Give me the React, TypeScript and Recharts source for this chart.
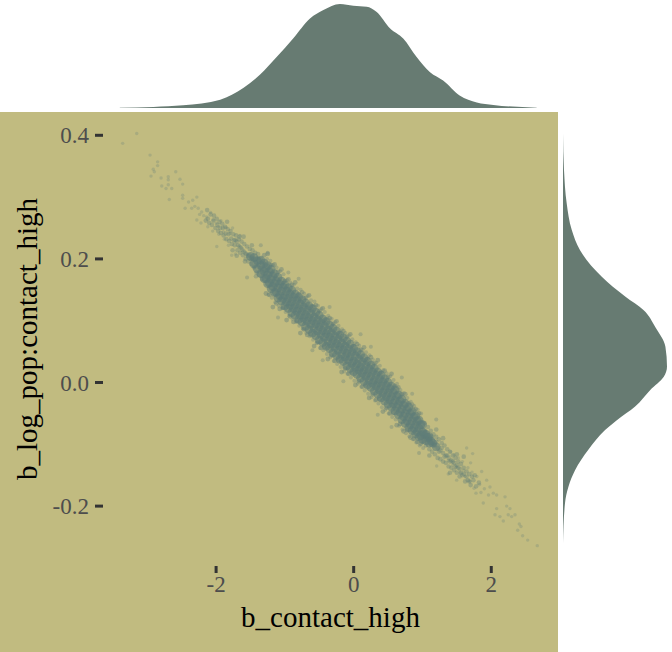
import { ScatterChart, Scatter, AreaChart, Area, XAxis, YAxis } from "recharts";

const FONT = '"Liberation Serif", "Times New Roman", serif';
const OLIVE = "#C1BB80";
const SLATE = "#677B72";
const DOT = "#5F7D78";

const xTicks = [-2, 0, 2];
const yTicks = [-0.2, 0, 0.2, 0.4];
const xDomain = [-3.644, 2.97];
const yDomain = [-0.2969, 0.4377];

// top marginal: [b_contact_high, density]
const topDensity = [
    [-3.4, 0.001], [-2.91, 0.005], [-2.48, 0.013], [-1.94, 0.04], [-1.6, 0.097], [-1.36, 0.161],
    [-1.12, 0.245], [-0.88, 0.334], [-0.635, 0.43], [-0.44, 0.471], [-0.2, 0.5], [-0.005, 0.492],
    [0.19, 0.487], [0.33, 0.463], [0.53, 0.382], [0.72, 0.334], [0.915, 0.245], [1.11, 0.172],
    [1.3, 0.132], [1.54, 0.06], [1.79, 0.027], [2.03, 0.015], [2.66, 0.001],
];

// right marginal: [b_log_pop:contact_high, density]
const rightDensity = [
    [0.403, 0], [0.344, 0.044], [0.29, 0.163], [0.247, 0.385], [0.214, 0.754], [0.171, 1.716],
    [0.139, 2.75], [0.117, 3.57], [0.09, 4.08], [0.058, 4.53], [0.026, 4.6], [0.009, 4.45],
    [-0.012, 3.86], [-0.039, 3.19], [-0.061, 2.38], [-0.077, 1.86], [-0.109, 1.12], [-0.142, 0.533],
    [-0.169, 0.237], [-0.195, 0.089], [-0.26, 0],
];

// sparse draws at both ends of the cloud
const tailDraws = [
    [-3.154, 0.403], [-3.358, 0.387], [-2.96, 0.368], [-2.85, 0.357], [-2.85, 0.351], [-2.913, 0.345],
    [-2.898, 0.341], [-2.946, 0.334], [-2.8, 0.331], [-2.695, 0.333], [-2.695, 0.328], [-2.587, 0.341],
    [-2.525, 0.329], [-2.486, 0.321], [-2.79, 0.318], [-2.695, 0.32], [-2.728, 0.314], [-2.645, 0.314],
    [-2.68, 0.296], [-2.486, 0.303], [-2.486, 0.298], [-2.34, 0.295], [-2.28, 0.3], [-2.45, 0.282],
    [-2.355, 0.282], [-2.26, 0.282], [-2.21, 0.276], [-2.28, 0.263], [-2.137, 0.268], [-2.04, 0.263],
    [-1.968, 0.252], [-1.895, 0.244], [-1.99, 0.22], [-1.773, 0.206], [-1.653, 0.238], [-2.18, 0.27],
    [-2.12, 0.252], [-2.08, 0.275], [-2.05, 0.245], [-2.0, 0.258], [-1.96, 0.24], [-1.93, 0.262],
    [-1.88, 0.232], [-1.85, 0.251], [-1.82, 0.222], [-1.8, 0.241], [-1.76, 0.25], [-1.72, 0.208],
    [-2.22, 0.258], [-2.31, 0.285], [-2.4, 0.292], [-2.24, 0.272],
    [2.669, -0.264], [2.529, -0.255], [2.456, -0.248], [2.384, -0.239], [2.432, -0.233], [2.408, -0.229],
    [2.345, -0.214], [2.296, -0.217], [2.247, -0.214], [2.224, -0.2], [2.272, -0.204], [2.2, -0.185],
    [2.078, -0.204], [2.054, -0.214], [2.126, -0.217], [2.175, -0.224], [2.078, -0.182], [1.933, -0.158],
    [1.884, -0.195], [1.778, -0.179], [1.642, -0.106], [1.729, -0.115], [1.86, -0.144], [1.981, -0.169],
    [2.03, -0.179], [1.497, -0.158], [1.375, -0.148], [1.206, -0.135], [1.83, -0.165], [1.79, -0.152],
    [1.75, -0.171], [1.72, -0.145], [1.69, -0.16], [1.66, -0.138], [1.62, -0.152], [1.58, -0.128],
    [1.55, -0.146], [1.52, -0.122], [1.49, -0.137], [1.46, -0.117], [1.9, -0.172], [1.96, -0.182],
    [1.7, -0.13], [1.85, -0.178], [1.6, -0.142], [1.44, -0.133], [1.41, -0.112], [1.38, -0.126],
];

// thicker stretches between the tails and the ridge
const shoulderDraws = [
    [-2.15, 0.262], [-2.13, 0.279], [-2.1, 0.258], [-2.08, 0.272], [-2.06, 0.255], [-2.03, 0.27],
    [-2.01, 0.25], [-1.99, 0.265], [-1.97, 0.245], [-1.95, 0.26], [-1.93, 0.242], [-1.91, 0.257],
    [-1.89, 0.238], [-1.87, 0.252], [-1.85, 0.232], [-1.83, 0.248], [-1.81, 0.229], [-1.79, 0.245],
    [-1.77, 0.224], [-1.75, 0.24], [-1.73, 0.222], [-1.71, 0.238], [-1.69, 0.214], [-1.67, 0.232],
    [-1.65, 0.21], [-1.63, 0.228], [-1.61, 0.206], [-1.59, 0.224], [-1.57, 0.2], [-1.55, 0.22],
    [-1.53, 0.196], [-1.51, 0.216], [-1.49, 0.192], [-1.47, 0.214], [-1.45, 0.186], [-1.43, 0.21],
    [-1.41, 0.178], [-1.39, 0.208], [-1.37, 0.174], [-1.35, 0.2], [-1.33, 0.168], [-1.31, 0.194],
    [-1.74, 0.23], [-1.7, 0.228], [-1.66, 0.22], [-1.62, 0.215], [-1.58, 0.21], [-1.54, 0.205],
    [-1.5, 0.2], [-1.46, 0.2], [-1.42, 0.195], [-1.38, 0.19], [-1.34, 0.184], [-1.3, 0.18],
    [-2.12, 0.265], [-2.04, 0.262], [-1.98, 0.255], [-1.94, 0.25], [-1.9, 0.25], [-1.86, 0.241],
    [-1.82, 0.24], [-1.78, 0.233], [-1.72, 0.23], [-1.68, 0.222], [-1.64, 0.218], [-1.6, 0.212],
    [-1.76, 0.214], [-1.56, 0.208], [-1.52, 0.206], [-1.48, 0.202], [-1.44, 0.188], [-1.4, 0.2],
    [-1.36, 0.185], [-1.32, 0.178], [-1.66, 0.236], [-1.58, 0.196], [-1.48, 0.222], [-1.42, 0.172],
    [-1.6, 0.236], [-1.7, 0.205], [-1.84, 0.26],
    [1.0, -0.096], [1.03, -0.066], [1.05, -0.102], [1.08, -0.072], [1.1, -0.108], [1.12, -0.078],
    [1.14, -0.112], [1.16, -0.084], [1.18, -0.116], [1.2, -0.088], [1.22, -0.122], [1.24, -0.092],
    [1.26, -0.124], [1.28, -0.098], [1.3, -0.128], [1.32, -0.102], [1.34, -0.13], [1.36, -0.108],
    [1.38, -0.136], [1.4, -0.112], [1.42, -0.138], [1.44, -0.118], [1.46, -0.142], [1.48, -0.122],
    [1.5, -0.146], [1.52, -0.128], [1.54, -0.152], [1.56, -0.132], [1.58, -0.15], [1.6, -0.138],
    [1.62, -0.16], [1.64, -0.144], [1.66, -0.158], [1.68, -0.148], [1.7, -0.166], [1.74, -0.158],
    [1.78, -0.168], [1.82, -0.162], [1.02, -0.082], [1.06, -0.088], [1.1, -0.092], [1.14, -0.098],
    [1.18, -0.102], [1.22, -0.106], [1.26, -0.11], [1.3, -0.114], [1.34, -0.118], [1.38, -0.122],
    [1.42, -0.126], [1.46, -0.13], [1.5, -0.134], [1.54, -0.14],
    [1.04, -0.078], [1.08, -0.09], [1.12, -0.088], [1.16, -0.1], [1.2, -0.096], [1.24, -0.112],
    [1.28, -0.106], [1.32, -0.12], [1.36, -0.118], [1.4, -0.128], [1.44, -0.128], [1.48, -0.136],
    [1.52, -0.138], [1.56, -0.146], [1.6, -0.148], [1.64, -0.152], [1.68, -0.16], [1.72, -0.152],
    [1.1, -0.118], [1.2, -0.076], [1.3, -0.09], [1.4, -0.146], [1.5, -0.116], [1.6, -0.12], [1.76, -0.15],
];

// loose band around the dense ridge
const bandDraws = [
    [-1.26, 0.2], [-1.24, 0.142], [-1.21, 0.197], [-1.19, 0.137], [-1.17, 0.19], [-1.14, 0.13],
    [-1.12, 0.186], [-1.09, 0.124], [-1.07, 0.18], [-1.04, 0.12], [-1.02, 0.175], [-0.99, 0.114],
    [-0.97, 0.166], [-0.94, 0.108], [-0.92, 0.162], [-0.89, 0.103], [-0.87, 0.158], [-0.84, 0.098],
    [-0.82, 0.152], [-0.79, 0.092], [-0.77, 0.15], [-0.74, 0.087], [-0.72, 0.144], [-0.69, 0.08],
    [-0.67, 0.14], [-0.64, 0.075], [-0.62, 0.133], [-0.59, 0.069], [-0.57, 0.131], [-0.54, 0.064],
    [-0.52, 0.124], [-0.49, 0.056], [-0.47, 0.119], [-0.44, 0.052], [-0.42, 0.114], [-0.39, 0.046],
    [-0.37, 0.108], [-0.34, 0.041], [-0.32, 0.103], [-0.29, 0.035], [-0.27, 0.098], [-0.24, 0.03],
    [-0.22, 0.092], [-0.19, 0.025], [-0.17, 0.086], [-0.14, 0.018], [-0.12, 0.08], [-0.09, 0.014],
    [-0.07, 0.076], [-0.04, 0.008], [-0.02, 0.07], [0.01, 0.003], [0.03, 0.065], [0.06, -0.002],
    [0.08, 0.06], [0.11, -0.007], [0.13, 0.053], [0.16, -0.013], [0.18, 0.049], [0.21, -0.018],
    [0.23, 0.044], [0.26, -0.024], [0.28, 0.037], [0.31, -0.029], [0.33, 0.032], [0.36, -0.034],
    [0.38, 0.027], [0.41, -0.04], [0.43, 0.02], [0.46, -0.044], [0.48, 0.015], [0.51, -0.05],
    [0.53, 0.01], [0.56, -0.056], [0.58, 0.004], [0.61, -0.06], [0.63, -0.002], [0.66, -0.07],
    [0.68, -0.012], [0.71, -0.076], [0.73, -0.017], [0.76, -0.082], [0.78, -0.025], [0.81, -0.087],
    [0.83, -0.031], [0.86, -0.092], [0.88, -0.038], [0.91, -0.097], [0.93, -0.044], [0.96, -0.102],
    [0.98, -0.05], [1.01, -0.106], [-1.55, 0.17], [-1.25, 0.21], [-1.1, 0.105], [-0.8, 0.168],
    [-0.6, 0.052], [-0.35, 0.122], [-0.15, 0.002], [0.1, 0.078], [0.35, -0.052], [0.7, 0.008],
    [0.95, -0.114], [1.2, -0.06], [-0.95, 0.178], [-0.45, 0.036], [0.25, 0.058], [0.55, -0.072],
    [0.85, -0.018], [-1.35, 0.222],
];

// draws hugging the ridge edges
const edgeDraws = [
    [-1.3, 0.206], [-1.275, 0.144], [-1.25, 0.208], [-1.225, 0.142], [-1.2, 0.19], [-1.175, 0.122],
    [-1.15, 0.191], [-1.125, 0.128], [-1.1, 0.179], [-1.075, 0.119], [-1.05, 0.183], [-1.025, 0.121],
    [-1.0, 0.164], [-0.975, 0.101], [-0.95, 0.167], [-0.925, 0.107], [-0.9, 0.158], [-0.875, 0.098],
    [-0.85, 0.162], [-0.825, 0.1], [-0.8, 0.143], [-0.775, 0.08], [-0.75, 0.146], [-0.725, 0.086],
    [-0.7, 0.137], [-0.675, 0.077], [-0.65, 0.141], [-0.625, 0.079], [-0.6, 0.122], [-0.575, 0.059],
    [-0.55, 0.125], [-0.525, 0.065], [-0.5, 0.116], [-0.475, 0.056], [-0.45, 0.12], [-0.425, 0.058],
    [-0.4, 0.101], [-0.375, 0.038], [-0.35, 0.104], [-0.325, 0.044], [-0.3, 0.095], [-0.275, 0.035],
    [-0.25, 0.099], [-0.225, 0.037], [-0.2, 0.08], [-0.175, 0.017], [-0.15, 0.083], [-0.125, 0.023],
    [-0.1, 0.074], [-0.075, 0.014], [-0.05, 0.078], [-0.025, 0.016], [0.0, 0.059], [0.025, -0.004],
    [0.05, 0.062], [0.075, 0.002], [0.1, 0.053], [0.125, -0.007], [0.15, 0.057], [0.175, -0.005],
    [0.2, 0.038], [0.225, -0.025], [0.25, 0.041], [0.275, -0.019], [0.3, 0.031], [0.325, -0.028],
    [0.35, 0.036], [0.375, -0.027], [0.4, 0.016], [0.425, -0.047], [0.45, 0.019], [0.475, -0.041],
    [0.5, 0.009], [0.525, -0.05], [0.55, 0.014], [0.575, -0.049], [0.6, -0.006], [0.625, -0.069],
    [0.65, -0.008], [0.675, -0.067], [0.7, -0.019], [0.725, -0.079], [0.75, -0.019], [0.775, -0.077],
    [0.8, -0.034], [0.825, -0.089], [0.85, -0.036], [0.875, -0.091], [0.9, -0.043], [0.925, -0.096],
    [0.95, -0.05], [0.975, -0.099],
];

// dense ridge: [b_contact_high, ...b_log_pop:contact_high]
const ridgeRows = [
    [-1.5, 0.204], [-1.45, 0.192, 0.202], [-1.4, 0.184, 0.197], [-1.35, 0.176, 0.19, 0.198],
    [-1.3, 0.168, 0.18, 0.193], [-1.25, 0.16, 0.174, 0.189], [-1.2, 0.152, 0.167, 0.183],
    [-1.15, 0.146, 0.16, 0.176],
    [-1.1, 0.137, 0.153, 0.17], [-1.05, 0.132, 0.148, 0.164], [-1.0, 0.124, 0.141, 0.158],
    [-0.95, 0.12, 0.136, 0.153], [-0.9, 0.113, 0.131, 0.149], [-0.85, 0.109, 0.126, 0.143],
    [-0.8, 0.102, 0.12, 0.138], [-0.75, 0.098, 0.115, 0.134], [-0.7, 0.091, 0.11, 0.129],
    [-0.65, 0.086, 0.105, 0.124], [-0.6, 0.08, 0.1, 0.12], [-0.55, 0.076, 0.095, 0.114],
    [-0.5, 0.069, 0.09, 0.109], [-0.45, 0.065, 0.084, 0.103], [-0.4, 0.059, 0.079, 0.099],
    [-0.35, 0.055, 0.074, 0.093], [-0.3, 0.048, 0.068, 0.088], [-0.25, 0.044, 0.063, 0.083],
    [-0.2, 0.038, 0.058, 0.077], [-0.15, 0.034, 0.053, 0.072], [-0.1, 0.027, 0.047, 0.067],
    [-0.05, 0.023, 0.042, 0.062], [0.0, 0.017, 0.035, 0.055], [0.05, 0.013, 0.03, 0.05],
    [0.1, 0.007, 0.025, 0.045], [0.15, 0.002, 0.02, 0.04], [0.2, -0.004, 0.015, 0.034],
    [0.25, -0.008, 0.01, 0.028], [0.3, -0.014, 0.004, 0.023], [0.35, -0.019, -0.001, 0.017],
    [0.4, -0.025, -0.006, 0.012], [0.45, -0.03, -0.012, 0.006], [0.5, -0.035, -0.017, 0.0],
    [0.55, -0.04, -0.023, -0.006], [0.6, -0.046, -0.029, -0.012], [0.65, -0.052, -0.035, -0.02],
    [0.7, -0.06, -0.043, -0.027], [0.75, -0.066, -0.05, -0.034], [0.8, -0.073, -0.056, -0.04],
    [0.85, -0.078, -0.062, -0.047], [0.9, -0.083, -0.068, -0.054], [0.95, -0.088, -0.074, -0.061],
    [1.0, -0.092, -0.08, -0.068], [1.05, -0.094, -0.084], [1.1, -0.098, -0.088], [1.15, -0.098],
    [1.2, -0.104],
];

// same ridge, half a step along the x axis
const ridgeRowsMid = [
    [-1.275, 0.168, 0.186], [-1.225, 0.161, 0.179], [-1.175, 0.155, 0.172], [-1.125, 0.146, 0.164],
    [-1.075, 0.141, 0.159], [-1.025, 0.136, 0.154], [-0.975, 0.13, 0.148], [-0.925, 0.125, 0.143],
    [-0.875, 0.12, 0.138], [-0.825, 0.115, 0.133], [-0.775, 0.109, 0.127], [-0.725, 0.104, 0.122],
    [-0.675, 0.099, 0.117], [-0.625, 0.094, 0.112], [-0.575, 0.088, 0.106], [-0.525, 0.083, 0.101],
    [-0.475, 0.078, 0.096], [-0.425, 0.073, 0.091], [-0.375, 0.067, 0.085], [-0.325, 0.062, 0.08],
    [-0.275, 0.057, 0.075], [-0.225, 0.052, 0.07], [-0.175, 0.046, 0.064], [-0.125, 0.041, 0.059],
    [-0.075, 0.036, 0.054], [-0.025, 0.031, 0.049], [0.025, 0.025, 0.043], [0.075, 0.02, 0.038],
    [0.125, 0.015, 0.033], [0.175, 0.01, 0.028], [0.225, 0.004, 0.022], [0.275, -0.001, 0.017],
    [0.325, -0.006, 0.012], [0.375, -0.012, 0.006], [0.425, -0.017, 0.001], [0.475, -0.023, -0.005],
    [0.525, -0.028, -0.01], [0.575, -0.034, -0.016], [0.625, -0.04, -0.022], [0.675, -0.048, -0.03],
    [0.725, -0.055, -0.037], [0.775, -0.062, -0.044], [0.825, -0.068, -0.05], [0.875, -0.074, -0.056],
    [0.925, -0.08, -0.062], [0.975, -0.086, -0.068], [1.025, -0.083], [1.075, -0.089], [1.125, -0.095],
];

const topData = topDensity.map(([x, d]) => ({ x, d }));
const rightData = rightDensity.map(([y, d]) => ({ y, d }));
const toPoints = (list: number[][]) => list.map(([x, y]) => ({ x, y }));
const fromRows = (rows: number[][]) => rows.flatMap(([x, ...ys]) => ys.map((y) => ({ x, y })));

const dot = (r: number, opacity: number) => (props: any) => (
    <circle cx={props.cx} cy={props.cy} r={r} fill={DOT} fillOpacity={opacity} />
);

export default function App() {
    return (
        <div style={{ position: "absolute", left: 0, top: 0, width: 672, height: 652, background: "#fff", overflow: "hidden" }}>
            {/* Top marginal */}
            <div style={{ position: "absolute", left: 0, top: 0 }}>
                <AreaChart width={558} height={108} data={topData} margin={{ top: 4, right: 0, bottom: 0, left: 103 }}>
                    <XAxis type="number" dataKey="x" domain={xDomain} hide />
                    <YAxis type="number" domain={[0, 0.5]} hide />
                    <Area type="monotone" dataKey="d" stroke="none" fill={SLATE} fillOpacity={1} isAnimationActive={false} />
                </AreaChart>
            </div>

            {/* Joint scatter */}
            <div style={{ position: "absolute", left: 0, top: 112, background: OLIVE }}>
                <ScatterChart width={558} height={540} margin={{ top: 0, right: 0, bottom: 0, left: 0 }}>
                    <XAxis
                        type="number"
                        dataKey="x"
                        domain={xDomain}
                        ticks={xTicks}
                        height={86}
                        axisLine={false}
                        tickSize={7}
                        tickMargin={3}
                        tickLine={{ stroke: "#333333", strokeWidth: 3 }}
                        tick={{ fill: "#4D4D4D", fontSize: 23, fontFamily: FONT }}
                        label={{ value: "b_contact_high", position: "insideBottom", offset: 25, fill: "#000", fontSize: 29, fontFamily: FONT }}
                    />
                    <YAxis
                        type="number"
                        dataKey="y"
                        domain={yDomain}
                        ticks={yTicks}
                        width={103}
                        axisLine={false}
                        tickSize={8}
                        tickMargin={6}
                        tickFormatter={(v: number) => v.toFixed(1)}
                        tickLine={{ stroke: "#333333", strokeWidth: 3 }}
                        tick={{ fill: "#4D4D4D", fontSize: 23, fontFamily: FONT }}
                        label={{ value: "b_log_pop:contact_high", angle: -90, position: "insideLeft", offset: 27, fill: "#000", fontSize: 29, fontFamily: FONT, style: { textAnchor: "middle" } }}
                    />
                    <Scatter data={toPoints(tailDraws)} shape={dot(1.7, 0.25)} isAnimationActive={false} />
                    <Scatter data={toPoints(shoulderDraws)} shape={dot(2.3, 0.36)} isAnimationActive={false} />
                    <Scatter data={toPoints(bandDraws)} shape={dot(2, 0.32)} isAnimationActive={false} />
                    <Scatter data={toPoints(edgeDraws)} shape={dot(2.4, 0.42)} isAnimationActive={false} />
                    <Scatter data={fromRows(ridgeRows)} shape={dot(4.4, 0.6)} isAnimationActive={false} />
                    <Scatter data={fromRows(ridgeRowsMid)} shape={dot(4.4, 0.6)} isAnimationActive={false} />
                </ScatterChart>
            </div>

            {/* Right marginal */}
            <div style={{ position: "absolute", left: 563, top: 112 }}>
                <AreaChart layout="vertical" width={104} height={454} data={rightData} margin={{ top: 0, right: 0, bottom: 0, left: 0 }}>
                    <XAxis type="number" domain={[0, 4.6]} hide />
                    <YAxis type="number" dataKey="y" domain={yDomain} reversed hide />
                    <Area type="monotone" dataKey="d" stroke="none" fill={SLATE} fillOpacity={1} isAnimationActive={false} />
                </AreaChart>
            </div>
        </div>
    );
}
